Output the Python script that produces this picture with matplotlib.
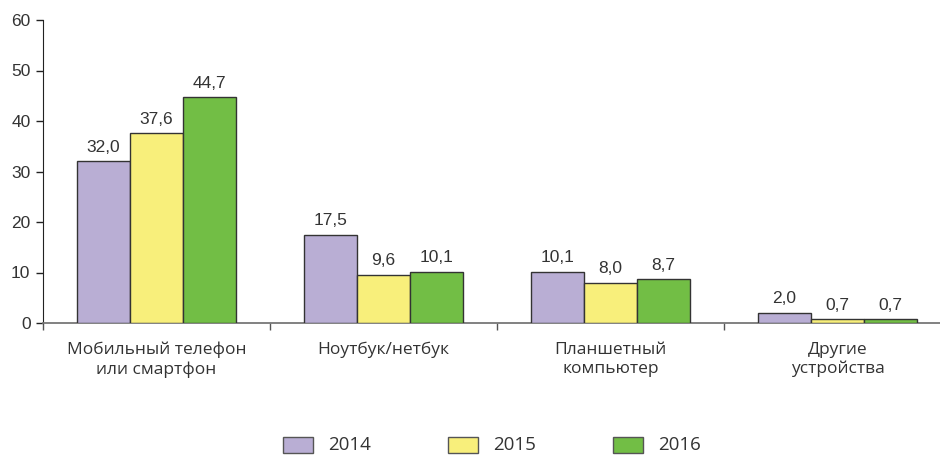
import matplotlib
matplotlib.use("Agg")
import matplotlib.pyplot as plt
from matplotlib.patches import Rectangle
import numpy as np

categories = ["Мобильный телефон\nили смартфон", "Ноутбук/нетбук",
              "Планшетный\nкомпьютер", "Другие\nустройства"]
years = ["2014", "2015", "2016"]
values_2014 = [32.0, 17.5, 10.1, 2.0]
values_2015 = [37.6, 9.6, 8.0, 0.7]
values_2016 = [44.7, 10.1, 8.7, 0.7]
value_labels_2014 = ["32,0", "17,5", "10,1", "2,0"]
value_labels_2015 = ["37,6", "9,6", "8,0", "0,7"]
value_labels_2016 = ["44,7", "10,1", "8,7", "0,7"]
y_ticks = [0, 10, 20, 30, 40, 50, 60]

colors = ["#B9AED4", "#F8EF7B", "#72BE45"]

num_family = ["Liberation Sans Narrow", "Liberation Sans", "DejaVu Sans"]
txt_family = ["Open Sans", "DejaVu Sans"]

fig = plt.figure(figsize=(9.4, 4.55), dpi=100)
W, H = 940, 455
x0, x1 = 43, 940
y0, y1 = 323, 20
ax = fig.add_axes([x0 / W, 1 - y0 / H, (x1 - x0) / W, (y0 - y1) / H])

cat_w = 227.0
right_lim = -0.5 + (x1 - x0) / cat_w
ax.set_xlim(-0.5, right_lim)
ax.set_ylim(0, 60)

x = np.arange(len(categories))
bw = 53 / cat_w
series = [values_2014, values_2015, values_2016]
labels = [value_labels_2014, value_labels_2015, value_labels_2016]
for i, (vals, labs) in enumerate(zip(series, labels)):
    pos = x + (i - 1) * bw
    ax.bar(pos, vals, width=bw, color=colors[i], edgecolor="#333333",
           linewidth=1.0, label=years[i], zorder=3)
    for p, v, l in zip(pos, vals, labs):
        ax.text(p, v + 1.3, l, ha="center", va="bottom", fontsize=12.5,
                family=num_family, color="#333333")

ax.spines["top"].set_visible(False)
ax.spines["right"].set_visible(False)
ax.spines["left"].set_color("#222222")
ax.spines["bottom"].set_color("#777777")
ax.spines["bottom"].set_linewidth(1.3)
ax.set_yticks(y_ticks)
ax.set_yticklabels([str(t) for t in y_ticks], family=num_family, fontsize=12.5,
                   color="#333333")
ax.tick_params(axis="y", length=5, width=1, color="#222222", pad=4)

ax.set_xticks(np.arange(-0.5, right_lim, 1.0))
ax.set_xticklabels([])
ax.tick_params(axis="x", length=5, width=1, color="#555555", direction="out")
for xi, c in zip(x, categories):
    ax.text(xi, -3.7, c, ha="center", va="top", fontsize=12.5,
            family=txt_family, color="#333333", linespacing=1.25,
            transform=ax.transData)

leg_x = [283, 448, 613]
for i in range(3):
    fig.patches.append(Rectangle((leg_x[i] / W, 1 - 453 / H), 30 / W, 16 / H,
                                 transform=fig.transFigure, facecolor=colors[i],
                                 edgecolor="#555555", linewidth=1.0))
    fig.text((leg_x[i] + 45) / W, 1 - 445 / H, years[i], ha="left", va="center",
             fontsize=13.5, family=txt_family, color="#333333")

fig.savefig("out.png", dpi=100)
